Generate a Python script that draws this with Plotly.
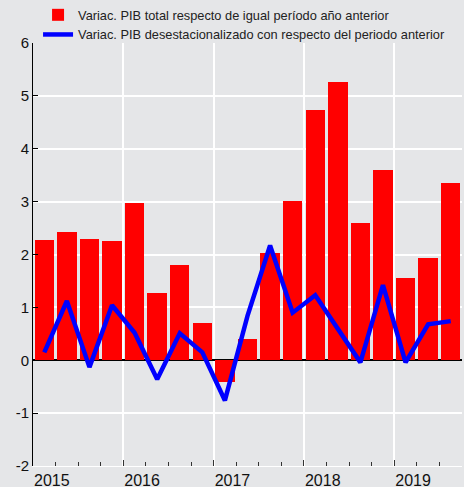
import plotly.graph_objects as go

quarters = ["2015T1", "2015T2", "2015T3", "2015T4",
            "2016T1", "2016T2", "2016T3", "2016T4",
            "2017T1", "2017T2", "2017T3", "2017T4",
            "2018T1", "2018T2", "2018T3", "2018T4",
            "2019T1", "2019T2", "2019T3"]
pib_total = [2.27, 2.43, 2.29, 2.26, 2.97, 1.28, 1.81, 0.71, -0.41, 0.40,
             2.02, 3.02, 4.74, 5.27, 2.59, 3.60, 1.55, 1.93, 3.36]
pib_desest = [0.15, 1.12, -0.13, 1.04, 0.52, -0.36, 0.51, 0.15, -0.76, 0.84,
              2.17, 0.90, 1.23, 0.58, -0.04, 1.42, -0.04, 0.68, 0.74]
year_labels = ["2015", "2016", "2017", "2018", "2019"]
y_ticks = [-2, -1, 0, 1, 2, 3, 4, 5, 6]
y_ticktext = ["-2", "-1", "0", "1", "2", "3", "4", "5", "6"]

xi = list(range(len(quarters)))
# year boundaries: first quarter of each year, minus half a quarter
year_starts = [i - 0.5 for i, q in enumerate(quarters) if q.endswith("T1")]

bg = "#e5e6e8"
fig = go.Figure()
fig.add_trace(go.Bar(
    x=xi, y=pib_total, width=0.86,
    marker=dict(color="#ff0000", line=dict(width=0)),
    name="Variac. PIB total respecto de igual período año anterior",
    hovertext=quarters,
))
fig.add_trace(go.Scatter(
    x=xi, y=pib_desest, mode="lines",
    line=dict(color="#0000ff", width=4.5),
    name="Variac. PIB desestacionalizado con respecto del periodo anterior",
    hovertext=quarters,
))

fig.update_layout(
    width=464, height=487,
    margin=dict(l=33, r=2, t=43, b=21, autoexpand=False),
    paper_bgcolor=bg, plot_bgcolor=bg,
    font=dict(family="Liberation Sans, Arial, sans-serif", color="#000000"),
    showlegend=True,
    legend=dict(
        orientation="v", xref="container", yref="container",
        x=0.082, xanchor="left", y=1.0, yanchor="top",
        bgcolor="rgba(0,0,0,0)", font=dict(size=12.8, color="#222222"),
        tracegroupgap=0, itemwidth=30,
    ),
    bargap=0,
)
fig.update_xaxes(
    range=[-0.5, len(quarters) - 0.5],
    tickmode="array", tickvals=year_starts, ticktext=year_labels,
    ticklabelposition="outside right",
    ticks="inside", ticklen=6, tickwidth=1, tickcolor="#333333",
    showgrid=True, gridcolor="#ffffff", gridwidth=1.5,
    showline=True, linecolor="#ffffff", linewidth=1,
    zeroline=False,
    tickfont=dict(size=16, color="#111111"),
    minor=dict(ticks="inside", ticklen=4, tickcolor="#333333", tickwidth=1,
               dtick=1, tick0=0.5, showgrid=False),
)
fig.update_yaxes(
    range=[-2, 6], tickmode="array", tickvals=y_ticks, ticktext=y_ticktext,
    ticks="inside", ticklen=5, tickcolor="#000000",
    showgrid=True, gridcolor="#ffffff", gridwidth=1.5,
    showline=True, linecolor="#000000", linewidth=1,
    zeroline=True, zerolinecolor="#000000", zerolinewidth=1.5,
    tickfont=dict(size=15, color="#111111"),
)

fig.write_html(
    "out.html",
    config={"displayModeBar": False},
    post_script="document.body.style.margin='0px';"
                "document.body.style.background='#e5e6e8';",
)
